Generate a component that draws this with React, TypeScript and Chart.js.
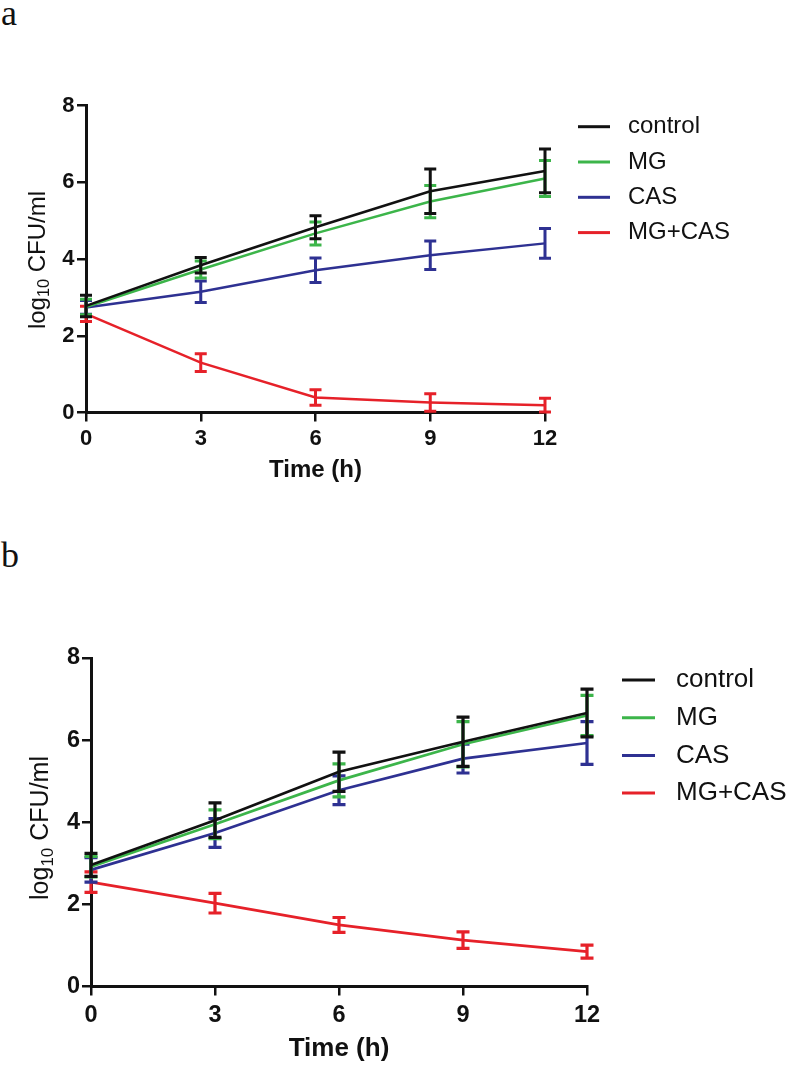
import React, { useEffect, useRef } from "react";
import { Chart, registerables } from "chart.js";

Chart.register(...registerables);

// ---------------- data ----------------
const hours = [0, 3, 6, 9, 12];
const seriesNames = ["control", "MG", "CAS", "MG+CAS"];
const seriesColors = ["#111111", "#3cb54a", "#2e3192", "#e62129"];
const xTitle = "Time (h)";

// Panel a
const controlA = [2.78, 3.84, 4.83, 5.77, 6.3];
const controlErrA = [0.28, 0.2, 0.3, 0.58, 0.57];
const mgA = [2.75, 3.73, 4.67, 5.5, 6.1];
const mgErrA = [0.2, 0.22, 0.3, 0.42, 0.47];
const casA = [2.74, 3.15, 3.71, 4.1, 4.41];
const casErrA = [0.18, 0.28, 0.32, 0.37, 0.39];
const mgcasA = [2.57, 1.3, 0.39, 0.26, 0.19];
const mgcasErrA = [0.2, 0.23, 0.2, 0.23, 0.18];

// Panel b
const controlB = [2.96, 4.05, 5.23, 5.96, 6.66];
const controlErrB = [0.28, 0.42, 0.48, 0.6, 0.58];
const mgB = [2.92, 3.95, 5.02, 5.9, 6.6];
const mgErrB = [0.25, 0.35, 0.4, 0.55, 0.49];
const casB = [2.84, 3.74, 4.78, 5.55, 5.93];
const casErrB = [0.3, 0.35, 0.35, 0.35, 0.52];
const mgcasB = [2.54, 2.03, 1.5, 1.13, 0.85];
const mgcasErrB = [0.25, 0.24, 0.18, 0.2, 0.16];

const FONT = "'Liberation Sans', Arial, Helvetica, sans-serif";
const INK = "#111111";

type Layout = {
  top: number;
  height: number;
  axisLeft: number;
  axisRight: number;
  plotTop: number;
  plotBottom: number;
  tickSize: number;
  xTickPad: number;
  yTickPad: number;
  titleSize: number;
  titlePadBottom: number;
  yTitleX: number;
  yTitleY: number;
  yTitleSize: number;
  legendX1: number;
  legendX2: number;
  legendTextX: number;
  legendY0: number;
  legendDy: number;
  legendSize: number;
  cap: number;
  errWidth: number;
  lineWidth: number;
};

const layoutA: Layout = {
  top: 80,
  height: 420,
  axisLeft: 86,
  axisRight: 545,
  plotTop: 105.7,
  plotBottom: 412.5,
  tickSize: 22,
  xTickPad: 4,
  yTickPad: 2.5,
  titleSize: 24,
  titlePadBottom: 15,
  yTitleX: 36,
  yTitleY: 260,
  yTitleSize: 24,
  legendX1: 578,
  legendX2: 610,
  legendTextX: 628,
  legendY0: 126.7,
  legendDy: 35.3,
  legendSize: 24,
  cap: 6,
  errWidth: 3,
  lineWidth: 2.5,
};

const layoutB: Layout = {
  top: 630,
  height: 438,
  axisLeft: 91,
  axisRight: 587,
  plotTop: 658,
  plotBottom: 986.5,
  tickSize: 23.5,
  xTickPad: 6,
  yTickPad: 2,
  titleSize: 26,
  titlePadBottom: 3.4,
  yTitleX: 39,
  yTitleY: 828,
  yTitleSize: 25,
  legendX1: 622,
  legendX2: 655,
  legendTextX: 676,
  legendY0: 680,
  legendDy: 37.7,
  legendSize: 26,
  cap: 6.5,
  errWidth: 3.2,
  lineWidth: 2.7,
};

function buildChart(
  canvas: HTMLCanvasElement,
  L: Layout,
  values: number[][],
  errors: number[][]
) {
  const datasets = seriesNames.map((name, i) => ({
    label: name,
    data: hours.map((h, j) => ({ x: h, y: values[i][j] })),
    borderColor: seriesColors[i],
    backgroundColor: seriesColors[i],
    borderWidth: L.lineWidth,
    pointRadius: 0,
    pointHoverRadius: 0,
    tension: 0,
    fill: false,
    clip: false as any,
  }));

  const errorBars = {
    id: "errorBars",
    afterDatasetDraw(chart: any, args: any) {
      const i = args.index;
      const ctx = chart.ctx as CanvasRenderingContext2D;
      const xs = chart.scales.x;
      const ys = chart.scales.y;
      ctx.save();
      ctx.strokeStyle = seriesColors[i];
      ctx.lineWidth = L.errWidth;
      ctx.lineCap = "butt";
      hours.forEach((h, j) => {
        const px = xs.getPixelForValue(h);
        const v = values[i][j];
        const e = errors[i][j];
        const yT = ys.getPixelForValue(v + e);
        const yB = ys.getPixelForValue(Math.max(0, v - e));
        ctx.beginPath();
        ctx.moveTo(px, yT);
        ctx.lineTo(px, yB);
        ctx.moveTo(px - L.cap, yT);
        ctx.lineTo(px + L.cap, yT);
        ctx.moveTo(px - L.cap, yB);
        ctx.lineTo(px + L.cap, yB);
        ctx.stroke();
      });
      ctx.restore();
    },
  };

  const decorations = {
    id: "decorations",
    afterDraw(chart: any) {
      const ctx = chart.ctx as CanvasRenderingContext2D;
      // y axis title with subscript
      ctx.save();
      ctx.translate(L.yTitleX, L.yTitleY - L.top);
      ctx.rotate(-Math.PI / 2);
      ctx.fillStyle = INK;
      ctx.textBaseline = "alphabetic";
      ctx.textAlign = "left";
      const big = `${L.yTitleSize}px ${FONT}`;
      const small = `${L.yTitleSize * 0.68}px ${FONT}`;
      ctx.font = big;
      const w1 = ctx.measureText("log").width;
      const w3 = ctx.measureText(" CFU/ml").width;
      ctx.font = small;
      const w2 = ctx.measureText("10").width;
      const total = w1 + w2 + w3;
      const start = -total / 2;
      const base = L.yTitleSize * 0.36;
      ctx.font = big;
      ctx.fillText("log", start, base);
      ctx.font = small;
      ctx.fillText("10", start + w1, base + L.yTitleSize * 0.2);
      ctx.font = big;
      ctx.fillText(" CFU/ml", start + w1 + w2, base);
      ctx.restore();

      // legend
      ctx.save();
      chart.data.datasets.forEach((ds: any, i: number) => {
        const y = L.legendY0 + i * L.legendDy - L.top;
        ctx.strokeStyle = ds.borderColor;
        ctx.lineWidth = 3;
        ctx.beginPath();
        ctx.moveTo(L.legendX1, y);
        ctx.lineTo(L.legendX2, y);
        ctx.stroke();
        ctx.fillStyle = INK;
        ctx.font = `${L.legendSize}px ${FONT}`;
        ctx.textBaseline = "middle";
        ctx.textAlign = "left";
        ctx.fillText(ds.label, L.legendTextX, y);
      });
      ctx.restore();
    },
  };

  const tickFont = { family: FONT, size: L.tickSize, weight: "bold" as const };

  return new Chart(canvas, {
    type: "line",
    data: { datasets },
    plugins: [errorBars, decorations],
    options: {
      animation: false,
      responsive: false,
      maintainAspectRatio: false,
      events: [],
      layout: {
        padding: {
          left: 0,
          top: L.plotTop - L.top,
          right: 800 - L.axisRight,
          bottom: 0,
        },
      },
      plugins: {
        legend: { display: false },
        tooltip: { enabled: false },
        title: { display: false },
      },
      scales: {
        x: {
          type: "linear",
          min: 0,
          max: 12,
          ticks: {
            stepSize: 3,
            color: INK,
            font: tickFont,
            padding: L.xTickPad,
            maxRotation: 0,
            autoSkip: false,
          },
          grid: {
            drawOnChartArea: false,
            drawTicks: true,
            tickLength: 9,
            color: INK,
            lineWidth: 2.5,
          },
          border: { display: true, color: INK, width: 3 },
          title: {
            display: true,
            text: xTitle,
            color: INK,
            font: { family: FONT, size: L.titleSize, weight: "bold" },
            padding: { top: 0, bottom: L.titlePadBottom },
          },
          afterFit: (s: any) => {
            s.height = L.top + L.height - L.plotBottom;
          },
        },
        y: {
          type: "linear",
          min: 0,
          max: 8,
          ticks: {
            stepSize: 2,
            color: INK,
            font: tickFont,
            padding: L.yTickPad,
          },
          grid: {
            drawOnChartArea: false,
            drawTicks: true,
            tickLength: 9,
            color: INK,
            lineWidth: 2.5,
          },
          border: { display: true, color: INK, width: 3 },
          afterFit: (s: any) => {
            s.width = L.axisLeft;
          },
        },
      },
    } as any,
  });
}

function Panel({
  L,
  values,
  errors,
}: {
  L: Layout;
  values: number[][];
  errors: number[][];
}) {
  const ref = useRef<HTMLCanvasElement | null>(null);
  useEffect(() => {
    if (!ref.current) return;
    const chart = buildChart(ref.current, L, values, errors);
    return () => chart.destroy();
  }, []);
  return (
    <canvas
      ref={ref}
      width={800}
      height={L.height}
      style={{
        position: "absolute",
        left: 0,
        top: L.top,
        width: 800,
        height: L.height,
        display: "block",
      }}
    />
  );
}

const panelLabelStyle: React.CSSProperties = {
  position: "absolute",
  left: 1,
  fontFamily: "'Liberation Serif', 'Times New Roman', serif",
  fontSize: 36,
  lineHeight: "36px",
  color: "#111",
};

export default function App() {
  return (
    <div
      style={{
        position: "absolute",
        left: 0,
        top: 0,
        width: 800,
        height: 1068,
        overflow: "hidden",
        background: "#fff",
      }}
    >
      <div style={{ ...panelLabelStyle, top: -5 }}>a</div>
      <Panel
        L={layoutA}
        values={[controlA, mgA, casA, mgcasA]}
        errors={[controlErrA, mgErrA, casErrA, mgcasErrA]}
      />
      <div style={{ ...panelLabelStyle, top: 537 }}>b</div>
      <Panel
        L={layoutB}
        values={[controlB, mgB, casB, mgcasB]}
        errors={[controlErrB, mgErrB, casErrB, mgcasErrB]}
      />
    </div>
  );
}
